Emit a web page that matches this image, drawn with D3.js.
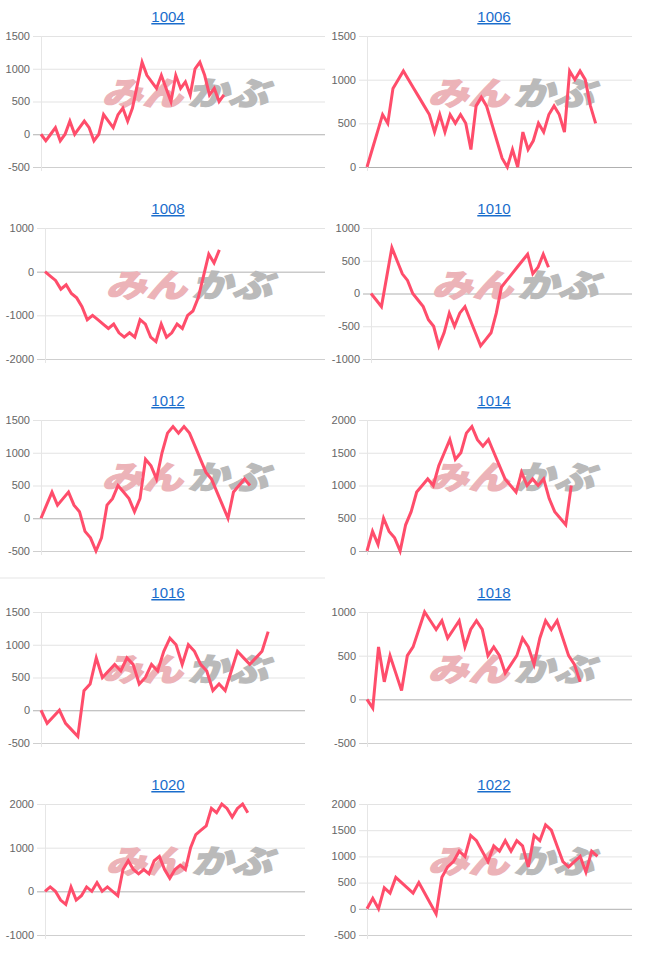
<!DOCTYPE html>
<html>
<head>
<meta charset="utf-8">
<script src="https://cdn.jsdelivr.net/npm/d3@7"></script>
<style>
  body { margin: 0; background: #fff; }
  svg { display: block; }
  .tick-label { font-family: "Liberation Sans", Arial, sans-serif; font-size: 11px; fill: #666; }
  .title { font-family: "Liberation Sans", Arial, sans-serif; font-size: 15px; fill: #1a6dcc; text-decoration: underline; }
</style>
</head>
<body>
<div id="draw-here"></div>
<script>
// chart codes, in reading order
var codes = ['1004', '1006', '1008', '1010', '1012', '1014', '1016', '1018', '1020', '1022'];

// y range and tick step of each chart
var yMin  = [-500,    0, -2000, -1000, -500,    0, -500, -500, -1000, -500];
var yMax  = [1500, 1500,  1000,  1000, 1500, 2000, 1500, 1000,  2000, 2000];
var yStep = [ 500,  500,  1000,   500,  500,  500,  500,  500,  1000,  500];

// number of x categories of each chart (the lines stop before the end)
var xSlots = [60, 52, 54, 51, 49, 49, 44, 47, 51, 47];

// series values
var s1004 = [0, -100, 0, 100, -100, 0, 200, 0, 100, 200, 100, -100, 0, 300, 200, 100, 300, 400, 200, 400,
  750, 1100, 900, 800, 700, 900, 700, 500, 900, 700, 800, 600, 1000, 1100, 900, 600, 700, 500, 600];
var s1006 = [0, 200, 400, 600, 500, 900, 1000, 1100, 1000, 900, 800, 700, 600, 400, 600, 400, 600, 500, 600, 500,
  200, 700, 800, 700, 500, 300, 100, 0, 200, 0, 400, 200, 300, 500, 400, 600, 700, 600, 400, 1100,
  1000, 1100, 1000, 700, 500];
var s1008 = [0, -100, -200, -400, -300, -500, -600, -800, -1100, -1000, -1100, -1200, -1300, -1200, -1400, -1500, -1400, -1500, -1100, -1200,
  -1500, -1600, -1200, -1500, -1400, -1200, -1300, -1000, -900, -600, -100, 400, 200, 500];
var s1010 = [0, -100, -200, 250, 700, 500, 300, 200, 0, -100, -200, -400, -500, -800, -600, -300, -500, -300, -200, -400,
  -600, -800, -700, -600, -300, 100, 200, 300, 400, 500, 600, 300, 400, 600, 400];
var s1012 = [0, 200, 400, 200, 300, 400, 200, 100, -200, -300, -500, -300, 200, 300, 500, 400, 300, 100, 300, 900,
  800, 600, 1000, 1300, 1400, 1300, 1400, 1300, 1100, 900, 700, 600, 400, 200, 0, 400, 500, 600, 500];
var s1014 = [0, 300, 100, 500, 300, 200, 0, 400, 600, 900, 1000, 1100, 1000, 1300, 1500, 1700, 1400, 1500, 1800, 1900,
  1700, 1600, 1700, 1500, 1300, 1100, 1000, 900, 1200, 1000, 1100, 1000, 1100, 800, 600, 500, 400, 1000];
var s1016 = [0, -200, -100, 0, -200, -300, -400, 300, 400, 800, 500, 600, 700, 600, 800, 700, 400, 500, 700, 600,
  900, 1100, 1000, 700, 1000, 900, 700, 600, 300, 400, 300, 600, 900, 800, 700, 800, 900, 1200];
var s1018 = [0, -100, 600, 200, 500, 300, 100, 500, 600, 800, 1000, 900, 800, 900, 700, 800, 900, 600, 800, 900,
  800, 500, 600, 500, 300, 400, 500, 700, 600, 400, 700, 900, 800, 900, 700, 500, 400, 200];
var s1020 = [0, 100, 0, -200, -300, 100, -200, -100, 100, 0, 200, 0, 100, 0, -100, 500, 700, 500, 400, 500,
  400, 700, 800, 500, 300, 500, 600, 500, 1000, 1300, 1400, 1500, 1900, 1800, 2000, 1900, 1700, 1900, 2000, 1800];
var s1022 = [0, 200, 0, 400, 300, 600, 500, 400, 300, 500, 300, 100, -100, 600, 800, 900, 1100, 1000, 1400, 1300,
  1100, 900, 1200, 1100, 1300, 1100, 1300, 1200, 800, 1400, 1300, 1600, 1500, 1200, 900, 800, 900, 1000, 700, 1100,
  1000];

var series = [s1004, s1006, s1008, s1010, s1012, s1014, s1016, s1018, s1020, s1022];

var W = 652, H = 958;
var svg = d3.select('#draw-here').append('svg')
    .attr('width', W)
    .attr('height', H);

// faint divider above the fourth row, left side
svg.append('rect')
    .attr('x', 0).attr('y', 577).attr('width', 325).attr('height', 2)
    .attr('fill', '#f2f2f2');

codes.forEach(function(code, i) {
  var col = i % 2, row = Math.floor(i / 2);
  var colX = col === 0 ? 0 : 326;
  var top = 36 + row * 192,
      bottom = top + 131;
  var right = col === 1 ? 632 : (row < 2 ? 325 : 305);

  var g = svg.append('g');
  var ticks = d3.range(yMin[i], yMax[i] + 1, yStep[i]);

  // tick labels first, so the plot's left edge can follow their width
  var labels = g.selectAll('text.tick-label').data(ticks).enter()
    .append('text')
    .attr('class', 'tick-label')
    .attr('text-anchor', 'end')
    .attr('dy', '0.35em')
    .text(function(d) { return d; });
  var maxW = d3.max(labels.nodes(), function(n) { return n.getComputedTextLength(); });
  var left = colX + Math.round(maxW) + 17;

  var y = d3.scaleLinear().domain([yMin[i], yMax[i]]).range([bottom, top]);
  var x = d3.scaleLinear().domain([0, xSlots[i] - 1]).range([left, right]);

  labels.attr('x', left - 11).attr('y', function(d) { return y(d); });

  // title
  g.append('text')
    .attr('class', 'title')
    .attr('x', colX + 168)
    .attr('y', top - 14)
    .attr('text-anchor', 'middle')
    .text(code);

  // grid
  g.selectAll('line.grid').data(ticks).enter()
    .append('line')
    .attr('x1', left - 8).attr('x2', right)
    .attr('y1', function(d) { return y(d) + 0.5; })
    .attr('y2', function(d) { return y(d) + 0.5; })
    .attr('stroke', function(d) {
      if (d === 0) return '#b0b0b0';
      if (d === yMin[i]) return '#cfcfcf';
      return '#e3e3e3';
    })
    .attr('stroke-width', 1);

  g.append('line')
    .attr('x1', left + 0.5).attr('x2', left + 0.5)
    .attr('y1', top).attr('y2', bottom + 4)
    .attr('stroke', '#e6e6e6');

  // watermark logo
  var wm = g.append('g')
    .attr('transform', 'translate(' + (left + 144) + ',' + (top + 69) + ') scale(1.26,1) skewX(-14)');
  wm.append('text')
    .attr('x', -2).attr('text-anchor', 'end')
    .attr('font-family', '"Noto Sans CJK JP", sans-serif')
    .attr('font-weight', 900).attr('font-size', 32)
    .attr('fill', '#ecb3b8')
    .attr('stroke', '#ecb3b8').attr('stroke-width', 1.2)
    .text('みん');
  wm.append('text')
    .attr('x', 2).attr('text-anchor', 'start')
    .attr('font-family', '"Noto Sans CJK JP", sans-serif')
    .attr('font-weight', 900).attr('font-size', 32)
    .attr('fill', '#bababa')
    .attr('stroke', '#bababa').attr('stroke-width', 1.2)
    .text('かぶ');

  // the line
  var line = d3.line()
    .x(function(d, j) { return x(j); })
    .y(function(d) { return y(d); });

  g.append('path')
    .datum(series[i])
    .attr('d', line)
    .attr('fill', 'none')
    .attr('stroke', '#ff4d6b')
    .attr('stroke-width', 3)
    .attr('stroke-linejoin', 'miter');
});
</script>
</body>
</html>
